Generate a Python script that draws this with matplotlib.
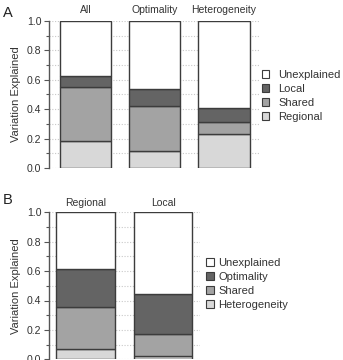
import matplotlib
matplotlib.use("Agg")
import matplotlib.pyplot as plt
from matplotlib.patches import Patch
import numpy as np

plt.rcParams['font.family'] = ['Liberation Sans', 'DejaVu Sans']

# Panel A data
cats_a = ["All", "Optimality", "Heterogeneity"]
regional_a = [0.181, 0.113, 0.229]
shared_a = [0.368, 0.309, 0.084]
local_a = [0.079, 0.113, 0.093]

# Panel B data
cats_b = ["Regional", "Local"]
heterog_b = [0.070, 0.022]
shared_b = [0.284, 0.153]
optim_b = [0.258, 0.269]

c_light = "#d8d8d8"
c_mid = "#a3a3a3"
c_dark = "#646464"
c_white = "#ffffff"
edge = "#3c3c3c"

W, H = 343, 360
fig = plt.figure(figsize=(W / 100, H / 100), dpi=100)


def style_axes(ax, xlim):
    ax.set_xlim(*xlim)
    ax.set_ylim(0, 1)
    for s in ["top", "right", "bottom"]:
        ax.spines[s].set_visible(False)
    ax.spines["left"].set_color("#555555")
    ax.spines["left"].set_linewidth(1.0)
    ax.set_xticks([])
    ax.set_yticks(np.arange(0, 1.01, 0.2))
    ax.set_yticks(np.arange(0.1, 1.0, 0.2), minor=True)
    ax.set_yticklabels([f"{v:.1f}" for v in np.arange(0, 1.01, 0.2)])
    ax.tick_params(axis="y", which="major", length=3.5, width=0.8, color="#555555",
                   labelsize=7.6, labelcolor="#333333", pad=2)
    ax.tick_params(axis="y", which="minor", length=2, width=0.8, color="#555555")
    ax.yaxis.grid(True, which="both", linestyle=(0, (1, 1.5)), color="#c8c8c8", linewidth=0.8)
    ax.set_axisbelow(True)


def stack(ax, x, layers, colors, width):
    bottom = np.zeros(len(x))
    for vals, col in zip(layers, colors):
        ax.bar(x, vals, width, bottom=bottom, color=col, edgecolor=edge, linewidth=1.0, zorder=3)
        bottom = bottom + np.array(vals)
    rest = 1 - bottom
    ax.bar(x, rest, width, bottom=bottom, color=c_white, edgecolor=edge, linewidth=1.0, zorder=3)


# ---------- Panel A ----------
axA = fig.add_axes([49 / W, (H - 168) / H, 211 / W, 147 / H])
xa = np.arange(len(cats_a))
style_axes(axA, (-0.527, 2.52))
stack(axA, xa, [regional_a, shared_a, local_a], [c_light, c_mid, c_dark], 0.74)
for i, c in enumerate(cats_a):
    axA.text(i, 1.075, c, ha="center", va="center", fontsize=7.5, color="#333333",
             transform=axA.get_xaxis_transform(), clip_on=False)
handles_a = [Patch(facecolor=c_white, edgecolor=edge, lw=0.8, label="Unexplained"),
             Patch(facecolor=c_dark, edgecolor=edge, lw=0.8, label="Local"),
             Patch(facecolor=c_mid, edgecolor=edge, lw=0.8, label="Shared"),
             Patch(facecolor=c_light, edgecolor=edge, lw=0.8, label="Regional")]
fig.legend(handles=handles_a, loc="upper left", bbox_to_anchor=(262 / W, 1 - 70 / H),
           frameon=False, fontsize=8, handlelength=0.65, handleheight=0.65,
           handletextpad=0.8, labelspacing=0.36, borderpad=0, borderaxespad=0,
           labelcolor="#333333")
fig.text(16 / W, 1 - 94.5 / H, "Variation Explained", rotation=90, ha="center", va="center",
         fontsize=8, color="#333333")
fig.text(3 / W, 1 - 13 / H, "A", ha="left", va="center", fontsize=10.5, color="#222222")

# ---------- Panel B ----------
axB = fig.add_axes([49 / W, (H - 359.3) / H, 151 / W, 147 / H])
xb = np.arange(len(cats_b))
style_axes(axB, (-0.471, 1.477))
stack(axB, xb, [heterog_b, shared_b, optim_b], [c_light, c_mid, c_dark], 0.75)
for i, c in enumerate(cats_b):
    axB.text(i, 1.066, c, ha="center", va="center", fontsize=7.5, color="#333333",
             transform=axB.get_xaxis_transform(), clip_on=False)
handles_b = [Patch(facecolor=c_white, edgecolor=edge, lw=0.8, label="Unexplained"),
             Patch(facecolor=c_dark, edgecolor=edge, lw=0.8, label="Optimality"),
             Patch(facecolor=c_mid, edgecolor=edge, lw=0.8, label="Shared"),
             Patch(facecolor=c_light, edgecolor=edge, lw=0.8, label="Heterogeneity")]
fig.legend(handles=handles_b, loc="upper left", bbox_to_anchor=(206 / W, 1 - 258 / H),
           frameon=False, fontsize=8, handlelength=0.75, handleheight=0.75,
           handletextpad=0.35, labelspacing=0.36, borderpad=0, borderaxespad=0,
           labelcolor="#333333")
fig.text(16 / W, 1 - 286 / H, "Variation Explained", rotation=90, ha="center", va="center",
         fontsize=8, color="#333333")
fig.text(3 / W, 1 - 200 / H, "B", ha="left", va="center", fontsize=10.5, color="#222222")

fig.savefig("out.png", dpi=100)
